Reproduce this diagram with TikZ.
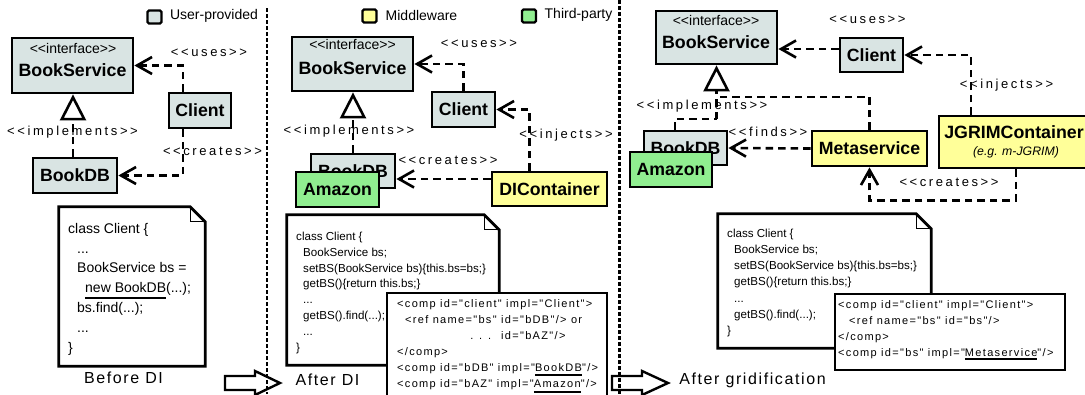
\documentclass[tikz,border=0pt]{standalone}
\usepackage{fontspec}
\setmainfont{Liberation Sans}
\newfontfamily\plainsans{Liberation Sans}
\newfontfamily\spacedsans[LetterSpace=20]{Liberation Sans}
\newfontfamily\xmlsans[LetterSpace=12]{Liberation Sans}
\newfontfamily\captionsans[LetterSpace=10]{Liberation Sans}
\usetikzlibrary{arrows.meta,calc}

\definecolor{userfill}{HTML}{D9E4E3}
\definecolor{midfill}{HTML}{FFFF99}
\definecolor{thirdfill}{HTML}{90EE90}

% thick underline below a word
\newbox\ulbox
\newcommand\codeul[2][-5pt]{\setbox\ulbox\hbox{#2}\rlap{\rule[#1]{\wd\ulbox}{2pt}}\box\ulbox}
\newcommand\firststrut[1]{\rule{0pt}{#1}}

\begin{document}
\begin{tikzpicture}[x=1pt,y=-1pt,
  box/.style={draw, line width=2.8pt, inner sep=0pt, font=\plainsans\bfseries\fontsize{17.7}{20}\selectfont},
  userbox/.style={box, fill=userfill},
  midbox/.style={box, fill=midfill},
  thirdbox/.style={box, fill=thirdfill},
  boxtext/.style={inner sep=0pt, font=\plainsans\bfseries\fontsize{17.8}{20}\selectfont},
  stereo/.style={inner sep=0pt, font=\plainsans\fontsize{14}{16}\selectfont},
  lbl/.style={inner sep=0pt, font=\spacedsans\fontsize{13}{15}\selectfont},
  caption/.style={inner sep=0pt, font=\captionsans\fontsize{16}{18}\selectfont},
  legtext/.style={inner sep=0pt, font=\plainsans\fontsize{14}{16}\selectfont},
  legsq/.style={draw, line width=2.4pt, rounded corners=1.5pt, minimum width=14pt, minimum height=13pt, inner sep=0pt},
  dline/.style={line width=2.6pt, dash pattern=on 7.5pt off 5pt},
  dep/.style={dline, -{Straight Barb[length=15pt,width=17pt]}},
  realize/.style={dline, -{Triangle[length=26pt,width=26pt,fill=white]}},
  sep/.style={line width=2.4pt, dash pattern=on 3.5pt off 2.5pt},
  noteshape/.style={line width=2.8pt, fill=white, line join=miter},
  fold/.style={line width=1.2pt},
  codebox/.style={draw, line width=2.8pt, fill=white, inner sep=0pt},
  code/.style={inner sep=0pt, anchor=north west, align=left},
  blockarrow/.style={draw, line width=2.4pt, fill=white, line join=miter},
]
\useasboundingbox (0,0) rectangle (1085,394);

% ---------- legend ----------
\node[legsq, fill=userfill] (lu) at (154.5,17) {};
\node[legtext] (lut) at (214,16) {User-provided};
\node[legsq, fill=midfill] (lm) at (369.5,16) {};
\node[legtext] (lmt) at (421.5,15) {Middleware};
\node[legsq, fill=thirdfill] (lt) at (529,16) {};
\node[legtext] (ltt) at (578.5,15) {Third-party};

% ---------- before DI ----------
\node[userbox, minimum width=121pt, minimum height=55pt] (bs1) at (72.5,65.5) {};
\node[stereo] (bs1i) at (73,48) {<<interface>>};
\node[boxtext] (bs1t) at (72.5,70) {BookService};
\node[userbox, minimum width=62pt, minimum height=35pt] (c1) at (200,110.5) {Client};
\node[userbox, minimum width=84pt, minimum height=35pt] (db1) at (75,175.5) {BookDB};

\draw[dep] ([xshift=-17pt]c1.north) |- (bs1.east);
\draw[dep] ([xshift=-17pt]c1.south) |- (db1.east);
\draw[realize] ([xshift=-2pt]db1.north) -- ([xshift=-2pt]db1.north |- bs1.south);

\node[lbl] (l1u) at (209,53) {<<uses>>};
\node[lbl] (l1i) at (72.5,132) {<<implements>>};
\node[lbl] (l1c) at (212.5,151) {<<creates>>};

\node[inner sep=0pt, minimum width=146pt, minimum height=159pt] (n1) at (132,286.5) {};
\draw[noteshape] (n1.north west) -- ([xshift=-15pt]n1.north east) -- ([yshift=-15pt]n1.north east)
  -- (n1.south east) -- (n1.south west) -- cycle;
\draw[fold] ([xshift=-15pt]n1.north east) -- ([xshift=-15pt,yshift=-15pt]n1.north east) -- ([yshift=-15pt]n1.north east);
\node[code, font=\plainsans\fontsize{14}{19.8}\selectfont] (n1c) at (68,221) {%
\firststrut{12pt}class Client \{\\
\hspace*{9pt}...\\
\hspace*{9pt}BookService bs =\\
\hspace*{17pt}\codeul[-6pt]{new BookDB}(...);\\
\hspace*{9pt}bs.find(...);\\
\hspace*{9pt}...\\
\}};
\node[caption] (cap1) at (123.5,378) {Before DI};

% ---------- after DI ----------
\node[userbox, minimum width=121pt, minimum height=54pt] (bs2) at (352.5,64) {};
\node[stereo] (bs2i) at (352.5,44) {<<interface>>};
\node[boxtext] (bs2t) at (352.5,68) {BookService};
\node[userbox, minimum width=63pt, minimum height=35pt] (c2) at (463.5,109.5) {Client};
\node[userbox, minimum width=84pt, minimum height=34pt] (db2) at (353,171) {BookDB};
\node[thirdbox, minimum width=83pt, minimum height=35pt] (amz2) at (337.5,189.5) {Amazon};
\node[midbox, minimum width=115pt, minimum height=34pt] (dic2) at (549.5,189) {DIContainer};

\draw[dep] (c2.north) |- (bs2.east);
\draw[dep] ([xshift=-20pt]dic2.north) |- (c2.east);
\draw[dep] ([yshift=10pt]dic2.west) -- ([yshift=10pt]dic2.west -| db2.east);
\draw[realize] (db2.north) -- (db2.north |- bs2.south);

\node[lbl] (l2u) at (479,44) {<<uses>>};
\node[lbl] (l2j) at (566,135) {<<injects>>};
\node[lbl] (l2i) at (349,131) {<<implements>>};
\node[lbl] (l2c) at (448,160) {<<creates>>};

\node[inner sep=0pt, minimum width=212pt, minimum height=150pt] (n2) at (393,290) {};
\draw[noteshape] (n2.north west) -- ([xshift=-15pt]n2.north east) -- ([yshift=-15pt]n2.north east)
  -- (n2.south east) -- (n2.south west) -- cycle;
\draw[fold] ([xshift=-15pt]n2.north east) -- ([xshift=-15pt,yshift=-15pt]n2.north east) -- ([yshift=-15pt]n2.north east);
\node[code, font=\plainsans\fontsize{11.6}{15.9}\selectfont] (n2c) at (296,230) {%
\firststrut{10pt}class Client \{\\
\hspace*{7pt}BookService bs;\\
\hspace*{7pt}setBS(BookService bs)\{this.bs=bs;\}\\
\hspace*{7pt}getBS()\{return this.bs;\}\\
\hspace*{7pt}...\\
\hspace*{7pt}getBS().find(...);\\
\hspace*{7pt}...\\
\}};

\node[codebox, minimum width=220pt, minimum height=110pt] (x2) at (497,348) {};
\node[code, font=\xmlsans\fontsize{11}{16}\selectfont] (x2c) at (397,297) {%
\firststrut{10pt}<comp id="client" impl="Client">\\
\hspace*{8pt}<ref name="bs" id="bDB"/> or\\
\hspace*{8pt}\phantom{<ref name="bs" }\llap{. . .\hspace{10pt}}id="bAZ"/>\\
</comp>\\
<comp id="bDB" impl="\codeul{BookDB}"/>\\
<comp id="bAZ" impl="\codeul[-5.5pt]{Amazon}"/>};
\node[caption] (cap2) at (327.5,380) {After DI};

% ---------- after gridification ----------
\node[userbox, minimum width=121pt, minimum height=53pt] (bs3) at (716.5,37.5) {};
\node[stereo] (bs3i) at (716,20) {<<interface>>};
\node[boxtext] (bs3t) at (716,42) {BookService};
\node[userbox, minimum width=63pt, minimum height=34pt] (c3) at (871.5,55) {Client};
\node[midbox, minimum width=154pt, minimum height=52pt] (jg) at (1016,142) {};
\node[boxtext] (jgt) at (1014,132) {JGRIMContainer};
\node[inner sep=0pt, font=\plainsans\itshape\fontsize{12.3}{14}\selectfont] (jge) at (1016,152) {(e.g. m-JGRIM)};
\node[userbox, minimum width=83pt, minimum height=34pt] (db3) at (685.5,148) {BookDB};
\node[thirdbox, minimum width=82pt, minimum height=35pt] (amz3) at (671,169.5) {Amazon};
\node[midbox, minimum width=115pt, minimum height=35pt] (ms3) at (869.5,148.5) {Metaservice};

\coordinate (impj) at (716.5,119);
\coordinate (impm) at (716.5,97);
\draw[dep] ([yshift=6pt]c3.west) -- ([yshift=6pt]c3.west -| bs3.east);
\draw[dep] ([xshift=-45pt]jg.north) |- (c3.east);
\draw[dep] (ms3.west) -- (db3.east);
\draw[dline] ([xshift=-10.5pt]db3.north) |- (impj);
\draw[dline] (ms3.north) |- (impm);
\draw[realize] (impj) -- (bs3.south);
\draw[dep] (jg.south) -- ++(0,31) -| (ms3.south);

\node[lbl] (l3u) at (867.5,20) {<<uses>>};
\node[lbl] (l3j) at (1006.5,85) {<<injects>>};
\node[lbl] (l3i) at (702,106) {<<implements>>};
\node[lbl] (l3f) at (768,132) {<<finds>>};
\node[lbl] (l3c) at (949,182) {<<creates>>};

\node[inner sep=0pt, minimum width=213pt, minimum height=134pt] (n3) at (824.5,281) {};
\draw[noteshape] (n3.north west) -- ([xshift=-15pt]n3.north east) -- ([yshift=-15pt]n3.north east)
  -- (n3.south east) -- (n3.south west) -- cycle;
\draw[fold] ([xshift=-15pt]n3.north east) -- ([xshift=-15pt,yshift=-15pt]n3.north east) -- ([yshift=-15pt]n3.north east);
\node[code, font=\plainsans\fontsize{11.6}{16.2}\selectfont] (n3c) at (727,227) {%
\firststrut{10pt}class Client \{\\
\hspace*{7pt}BookService bs;\\
\hspace*{7pt}setBS(BookService bs)\{this.bs=bs;\}\\
\hspace*{7pt}getBS()\{return this.bs;\}\\
\hspace*{7pt}...\\
\hspace*{7pt}getBS().find(...);\\
\}};

\node[codebox, minimum width=230pt, minimum height=76pt] (x3) at (950,332) {};
\node[code, font=\xmlsans\fontsize{11}{16}\selectfont] (x3c) at (838,298) {%
\firststrut{10pt}<comp id="client" impl="Client">\\
\hspace*{11pt}<ref name="bs" id="bs"/>\\
</comp>\\
<comp id="bs" impl="\codeul[-4pt]{Metaservice}"/>};
\node[caption] (cap3) at (752.5,380) {After gridification};

% ---------- transitions and panel separators ----------
\draw[blockarrow] (225,376) -- (255,376) -- (255,371) -- (280,383) -- (255,395) -- (255,390) -- (225,390) -- cycle;
\draw[blockarrow] (612,376) -- (642,376) -- (642,371) -- (668,383) -- (642,395) -- (642,390) -- (612,390) -- cycle;
\draw[sep] (267,8) -- (267,394);
\draw[sep] (619.5,0) -- (619.5,394);
\end{tikzpicture}
\end{document}
